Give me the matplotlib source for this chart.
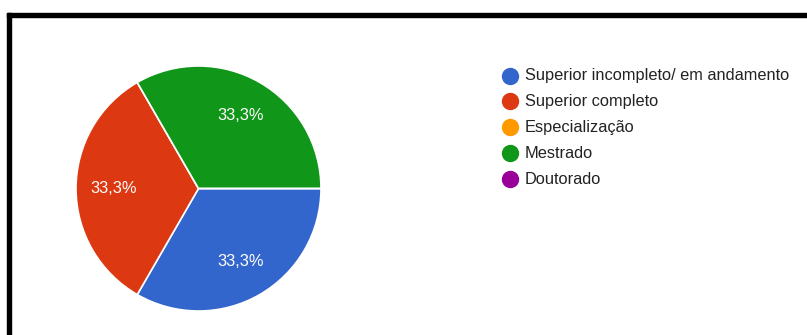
import matplotlib
matplotlib.use("Agg")
import matplotlib.pyplot as plt
from matplotlib.patches import Rectangle

categories = [
    "Superior incompleto/ em andamento",
    "Superior completo",
    "Especialização",
    "Mestrado",
    "Doutorado",
]
shares = [1, 1, 0, 1, 0]
colors = ["#3366CC", "#DC3912", "#FF9900", "#109618", "#990099"]

W, H = 807, 335
fig = plt.figure(figsize=(W / 100, H / 100), dpi=100)
fig.patch.set_facecolor("white")

# frame lines along top and left edges
fig.patches.append(Rectangle((7 / W, (H - 17) / H), 1 - 7 / W, 4 / H,
                             transform=fig.transFigure, color="black", zorder=5))
fig.patches.append(Rectangle((7 / W, 0), 4 / W, (H - 13) / H,
                             transform=fig.transFigure, color="black", zorder=5))

# pie
cx, cy, r = 198.5, 188.5, 122.5
ax = fig.add_axes([(cx - r) / W, (H - cy - r) / H, 2 * r / W, 2 * r / H])


def pct(v):
    return f"{v:.1f}%".replace(".", ",") if v > 0 else ""


wedges, texts, autotexts = ax.pie(
    shares, colors=colors, startangle=0, counterclock=False,
    autopct=pct, pctdistance=0.69,
    wedgeprops=dict(edgecolor="white", linewidth=1.2),
    textprops=dict(color="white", fontsize=11.8, family="Liberation Sans"),
)
ax.set_xlim(-1, 1)
ax.set_ylim(-1, 1)
ax.set_aspect("equal")

# legend
lg = fig.add_axes([0, 0, 1, 1])
lg.set_xlim(0, W)
lg.set_ylim(H, 0)
lg.axis("off")
y0, dy = 75.5, 25.9
for i, (name, c) in enumerate(zip(categories, colors)):
    y = y0 + i * dy
    lg.plot([510], [y], marker="o", markersize=11.5, color=c, linestyle="none")
    lg.text(525, y, name, va="center", ha="left", fontsize=11.8,
            color="#222222", family="Liberation Sans")

fig.savefig("out.png", dpi=100)
